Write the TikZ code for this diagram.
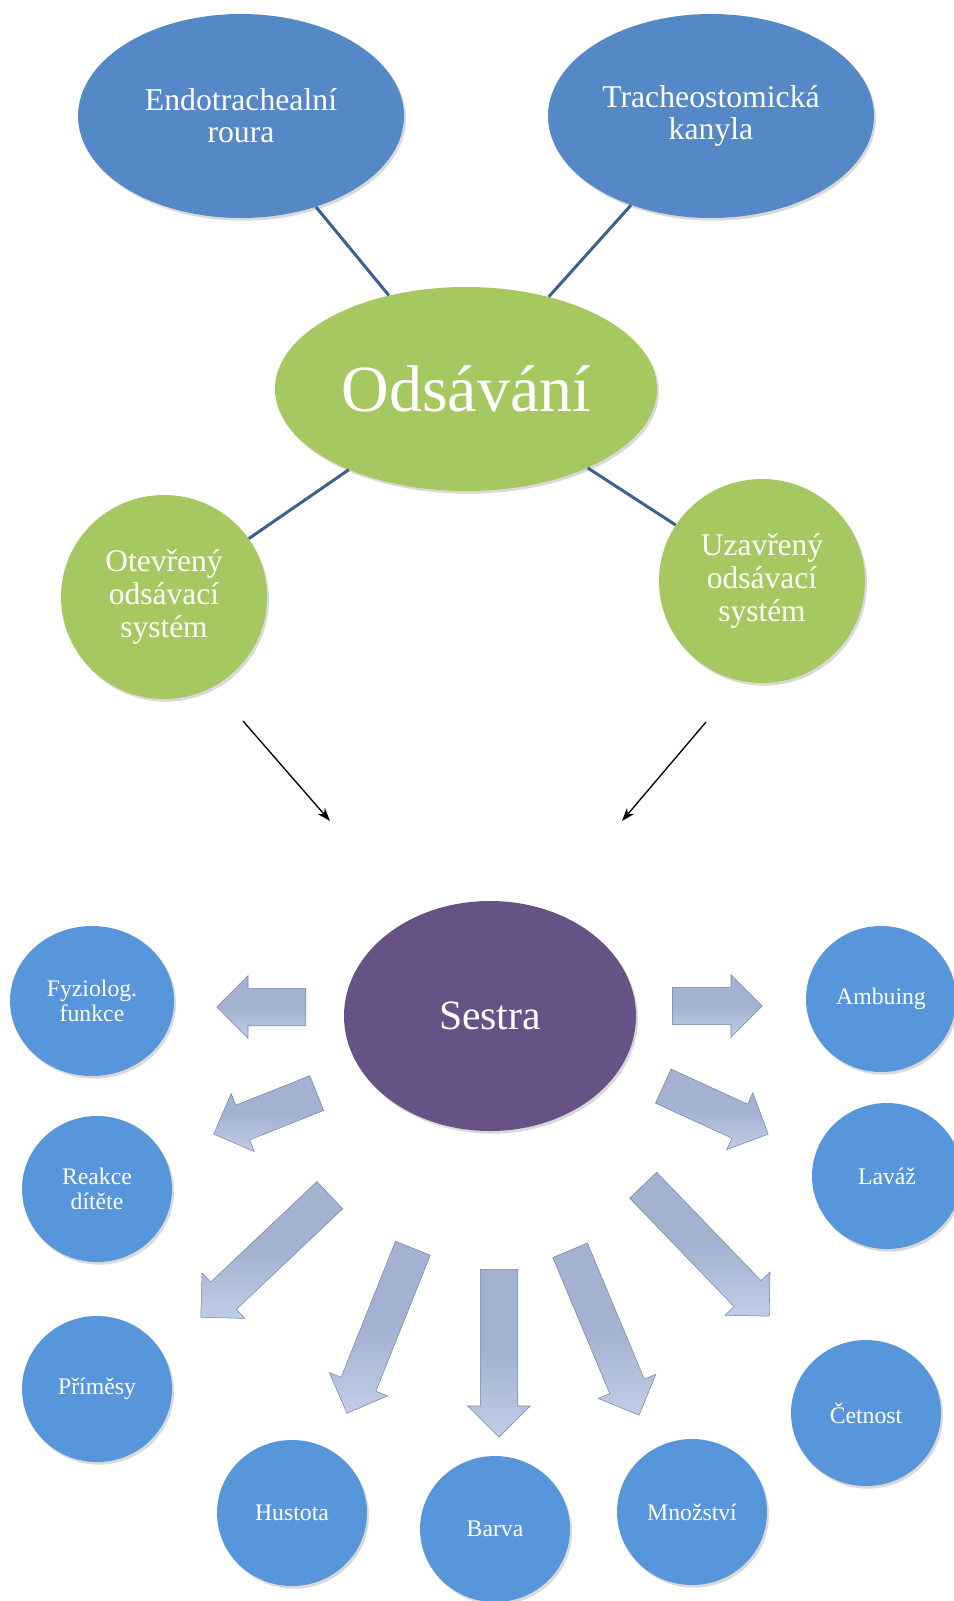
\documentclass[tikz,border=0pt]{standalone}
\usepackage{fontspec}
\setmainfont{Liberation Serif}
\usetikzlibrary{shapes.geometric,shapes.arrows,shadows,arrows.meta}

\definecolor{topblue}{RGB}{84,136,199}
\definecolor{lowblue}{RGB}{88,150,220}
\definecolor{leafgreen}{RGB}{166,200,96}
\definecolor{nursepurple}{RGB}{103,82,134}
\definecolor{linkblue}{RGB}{62,96,145}
\definecolor{arrowlight}{RGB}{192,205,230}
\definecolor{arrowmid}{RGB}{163,178,209}
\definecolor{arrowdark}{RGB}{118,134,168}

\tikzset{
	bubble/.style={ellipse, inner sep=0pt, align=center, text=white,
		drop shadow={shadow xshift=1.5pt, shadow yshift=-2pt, opacity=0.3}},
	airway/.style={bubble, fill=topblue, minimum width=244.5pt, minimum height=153pt,
		font=\fontsize{23.8}{24}\selectfont},
	method/.style={bubble, fill=leafgreen, minimum width=154.5pt, minimum height=153pt,
		font=\fontsize{23.6}{25}\selectfont},
	task/.style={bubble, fill=lowblue, minimum width=112.5pt, minimum height=109.5pt,
		font=\fontsize{17.8}{19}\selectfont},
	link/.style={draw=linkblue, line width=2.25pt},
	pointer/.style={-{Stealth[length=10pt,width=7pt]}, line width=1pt},
	blockarrow/.style={single arrow, single arrow head extend=9.4pt, anchor=tail,
		inner xsep=0pt, inner ysep=13.85pt, draw=arrowdark, line width=0.4pt,
		top color=arrowmid, bottom color=arrowlight, middle color=arrowmid},
}

\begin{document}
\begin{tikzpicture}[x=0.75pt,y=-0.75pt]
	\useasboundingbox (0,0) rectangle (953,1601);
	% upper part
	\node[airway] (endo) at (241,116) {Endotrachealní\\roura};
	\node[airway] (trach) at (711,116) {Tracheostomická\\kanyla};
	\node[bubble, fill=leafgreen, minimum width=286.5pt, minimum height=153pt,
		font=\fontsize{49.5}{50}\selectfont] (ods) at (466,389) {Odsávání};
	\node[method] (otev) at (164,597) {Otevřený\\odsávací\\systém};
	\node[method] (uzav) at (762,581) {Uzavřený\\odsávací\\systém};
	\draw[link] (endo) -- (ods);
	\draw[link] (trach) -- (ods);
	\draw[link] (otev) -- (ods);
	\draw[link] (uzav) -- (ods);
	\coordinate (otev-out) at (243,721);
	\coordinate (otev-in) at (330,821);
	\coordinate (uzav-out) at (706,722);
	\coordinate (uzav-in) at (622,821);
	\draw[pointer] (otev-out) -- (otev-in);
	\draw[pointer] (uzav-out) -- (uzav-in);
	% lower part
	\node[bubble, fill=nursepurple, minimum width=219pt, minimum height=172.5pt,
		font=\fontsize{31.3}{32}\selectfont] (sestra) at (490,1016) {Sestra};
	\node[task, minimum width=123pt, minimum height=112.5pt] (fyz) at (92,1001) {Fyziolog.\\funkce};
	\node[task] (reakce) at (97,1189) {Reakce\\dítěte};
	\node[task] (primesy) at (97,1389) {Příměsy};
	\node[task] (hustota) at (292,1513) {Hustota};
	\node[task] (barva) at (495,1529) {Barva};
	\node[task] (mnozstvi) at (692,1512) {Množství};
	\node[task] (cetnost) at (866,1413) {Četnost};
	\node[task] (lavaz) at (887,1176) {Laváž};
	\node[task] (ambuing) at (881,999) {Ambuing};
	\node[blockarrow, minimum height=66.75pt, rotate=180] (to-fyz) at (306,1007) {};
	\node[blockarrow, minimum height=83.2pt, rotate=201.7] (to-reakce) at (317,1093) {};
	\node[blockarrow, minimum height=133.2pt, rotate=223.4] (to-primesy) at (330,1195) {};
	\node[blockarrow, minimum height=133.3pt, rotate=248.2] (to-hustota) at (413,1248) {};
	\node[blockarrow, minimum height=126pt, rotate=270] (to-barva) at (499,1269) {};
	\node[blockarrow, minimum height=134.1pt, rotate=-67.3] (to-mnozstvi) at (570,1250) {};
	\node[blockarrow, minimum height=136.3pt, rotate=-46.1] (to-cetnost) at (643,1185) {};
	\node[blockarrow, minimum height=86.6pt, rotate=-24.6] (to-lavaz) at (663,1086) {};
	\node[blockarrow, minimum height=67.5pt, rotate=0] (to-ambuing) at (672,1006) {};
\end{tikzpicture}
\end{document}
